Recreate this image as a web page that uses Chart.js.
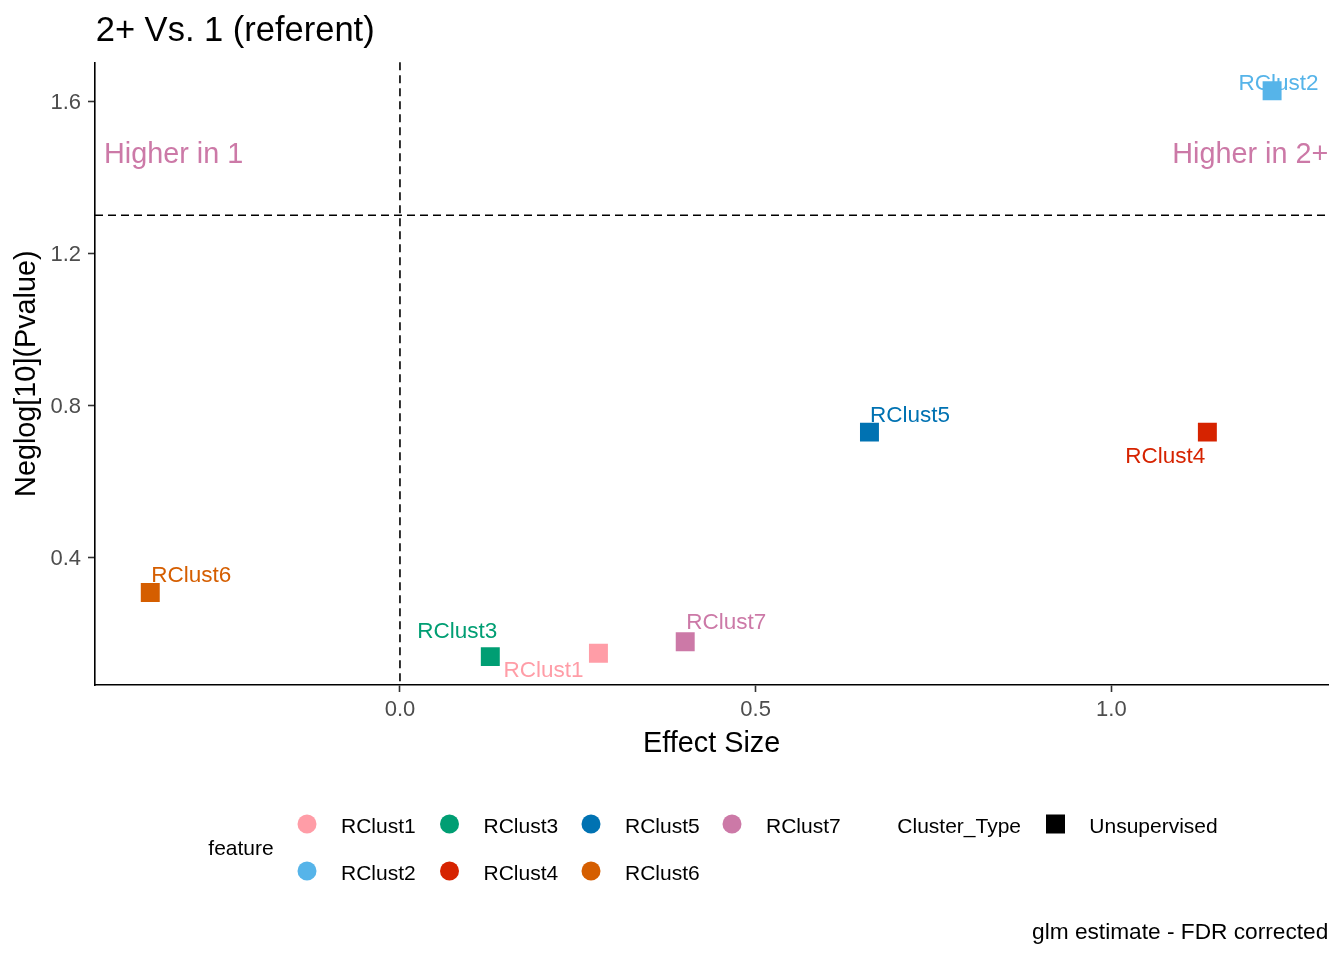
<!DOCTYPE html>
<html><head><meta charset="utf-8">
<script src="https://cdn.jsdelivr.net/npm/chart.js@4.4.1/dist/chart.umd.min.js"></script>
<style>html,body{margin:0;padding:0;background:#fff;overflow:hidden}#wrap{width:1344px;height:960px;position:relative}</style>
</head><body><div id="wrap"><canvas id="c" width="1344" height="960" style="width:1344px;height:960px"></canvas></div>
<script>
// ---- data ----
const features   = ['RClust1','RClust2','RClust3','RClust4','RClust5','RClust6','RClust7'];
const effectSize = [0.279, 1.226, 0.127, 1.135, 0.660, -0.351, 0.401];
const neglogP    = [0.148, 1.629, 0.139, 0.730, 0.730, 0.308, 0.178];
const xTicks = [0.0, 0.5, 1.0];
const yTicks = [0.4, 0.8, 1.2, 1.6];
const xRange = [-0.4287, 1.305];
const yRange = [0.0643, 1.7037];
const sigLine = 1.301;
const titleText = '2+ Vs. 1 (referent)';
const xTitle = 'Effect Size';
const yTitle = 'Neglog[10](Pvalue)';
const caption = 'glm estimate - FDR corrected';
const leftNote = 'Higher in 1';
const rightNote = 'Higher in 2+';
const legendTitle1 = 'feature';
const legendTitle2 = 'Cluster_Type';
const legendType = 'Unsupervised';

// ---- styles ----
const colors = ['#FF9DA7','#56B4E9','#009E73','#D62300','#0072B2','#D55E00','#CC79A7'];
const noteColor = '#CC79A7';
const FONT = '"Liberation Sans", Arial, Helvetica, sans-serif';
// label offsets (px) from point centre: dx, dy (baseline), align
const labelStyle = [
  [-55, 23.4, 'center'],
  [6.5, -0.8, 'center'],
  [-33, -18.2, 'center'],
  [-2, 30.7, 'right'],
  [0.5, -10.3, 'left'],
  [1, -10.8, 'left'],
  [1, -12.7, 'left']
];

const datasets = features.map((f,i)=>({
  label: f,
  data: [{x: effectSize[i], y: neglogP[i]}],
  backgroundColor: colors[i],
  borderWidth: 0,
  pointStyle: 'rect',
  pointRadius: 13.4,
  pointHoverRadius: 13.4
}));

const decor = {
  id: 'decor',
  beforeDatasetsDraw(chart){
    const ctx = chart.ctx, xs = chart.scales.x, ys = chart.scales.y, ca = chart.chartArea;
    ctx.save();
    // dashed reference lines
    ctx.strokeStyle = '#000'; ctx.lineWidth = 1.6; ctx.setLineDash([8,5]);
    ctx.beginPath();
    const x0 = xs.getPixelForValue(0);
    ctx.moveTo(x0, ca.top); ctx.lineTo(x0, ca.bottom);
    const yl = ys.getPixelForValue(sigLine);
    ctx.moveTo(ca.left, yl); ctx.lineTo(ca.right, yl);
    ctx.stroke();
    ctx.setLineDash([]);
    // notes
    ctx.fillStyle = noteColor; ctx.font = '28.8px ' + FONT; ctx.textBaseline = 'alphabetic';
    const yn = ys.getPixelForValue(1.438);
    ctx.textAlign = 'left'; ctx.fillText(leftNote, ca.left + 9, yn);
    ctx.textAlign = 'right'; ctx.fillText(rightNote, ca.right, yn);
    // point labels
    ctx.font = '22.5px ' + FONT;
    features.forEach((f,i)=>{
      const px = xs.getPixelForValue(effectSize[i]);
      const py = ys.getPixelForValue(neglogP[i]);
      const s = labelStyle[i];
      ctx.fillStyle = colors[i]; ctx.textAlign = s[2];
      ctx.fillText(f, px + s[0], py + s[1]);
    });
    ctx.restore();
  },
  afterDraw(chart){
    const ctx = chart.ctx, ca = chart.chartArea;
    ctx.save();
    ctx.textBaseline = 'alphabetic';
    // title
    ctx.fillStyle = '#000'; ctx.font = '34.5px ' + FONT; ctx.textAlign = 'left';
    ctx.fillText(titleText, ca.left + 0.7, 40.7);
    // axis titles
    ctx.font = '28.8px ' + FONT; ctx.textAlign = 'center';
    ctx.fillText(xTitle, (ca.left + ca.right)/2, 751.7);
    ctx.save();
    ctx.translate(35, (ca.top + ca.bottom)/2);
    ctx.rotate(-Math.PI/2);
    ctx.fillText(yTitle, 0, 0);
    ctx.restore();
    // legend
    ctx.font = '21px ' + FONT; ctx.textAlign = 'left';
    ctx.fillText(legendTitle1, 208.3, 855);
    const colX = [307, 449.5, 591, 732];
    const rowY = [824, 871];
    features.forEach((f,i)=>{
      const col = Math.floor(i/2), row = i%2;
      ctx.fillStyle = colors[i];
      ctx.beginPath(); ctx.arc(colX[col], rowY[row], 9.5, 0, Math.PI*2); ctx.fill();
      ctx.fillStyle = '#000';
      ctx.fillText(f, colX[col] + 34, rowY[row] + 9.3);
    });
    ctx.fillText(legendTitle2, 897.3, 833);
    ctx.fillRect(1046, 814.5, 19, 19);
    ctx.fillText(legendType, 1089.3, 833);
    // caption
    ctx.font = '22.7px ' + FONT; ctx.textAlign = 'right';
    ctx.fillText(caption, 1328.3, 939.3);
    ctx.restore();
  }
};

new Chart(document.getElementById('c'), {
  type: 'scatter',
  data: { datasets },
  options: {
    responsive: false,
    animation: false,
    events: [],
    layout: { padding: { left: 0, right: 15.7, top: 62.3, bottom: 0 } },
    plugins: { legend: { display: false }, tooltip: { enabled: false }, title: { display: false } },
    scales: {
      x: {
        type: 'linear', min: xRange[0], max: xRange[1],
        afterBuildTicks: s => { s.ticks = xTicks.map(v => ({ value: v })); },
        afterFit: s => { s.height = 275; },
        ticks: { callback: v => Number(v).toFixed(1), color: '#4D4D4D', font: { family: FONT, size: 22 }, padding: 5, maxRotation: 0, autoSkip: false },
        grid: { display: true, drawOnChartArea: false, drawTicks: true, tickLength: 7, tickWidth: 1.6, tickColor: '#333333' },
        border: { display: true, color: '#000', width: 1.6 },
        title: { display: false }
      },
      y: {
        type: 'linear', min: yRange[0], max: yRange[1],
        afterBuildTicks: s => { s.ticks = yTicks.map(v => ({ value: v })); },
        afterFit: s => { s.width = 95; },
        ticks: { callback: v => Number(v).toFixed(1), color: '#4D4D4D', font: { family: FONT, size: 22 }, padding: 7, labelOffset: 1.5, autoSkip: false },
        grid: { display: true, drawOnChartArea: false, drawTicks: true, tickLength: 7, tickWidth: 1.6, tickColor: '#333333' },
        border: { display: true, color: '#000', width: 1.6 },
        title: { display: false }
      }
    }
  },
  plugins: [decor]
});
</script></body></html>
